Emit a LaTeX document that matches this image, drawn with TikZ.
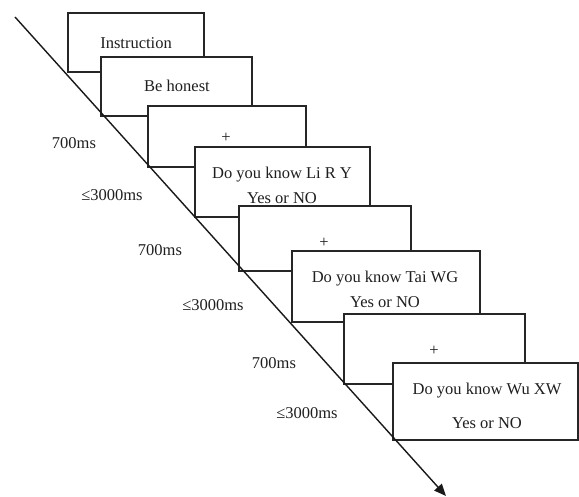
\documentclass[tikz,border=0pt]{standalone}
\usepackage{fontspec}
\setmainfont{Liberation Serif}
\usetikzlibrary{arrows.meta}
\begin{document}
\begin{tikzpicture}[x=1pt,y=-1pt,
  frame/.style={draw=black!85, line width=1.5pt, fill=white, inner sep=0pt, outer sep=0pt, anchor=north west},
  txt/.style={font=\fontsize{16.5}{20}\selectfont, text=black!88, anchor=base, inner sep=0pt},
  timeline/.style={draw=black!90, line width=1.4pt, -{Triangle[length=12pt,width=10pt]}}]
\useasboundingbox (0,0) rectangle (579,497);
% slides
\node[frame, minimum width=136pt, minimum height=59pt] (b1) at (68,13) {};
\node[frame, minimum width=151pt, minimum height=59pt] (b2) at (101,57) {};
\node[frame, minimum width=158pt, minimum height=61pt] (b3) at (148,106) {};
\node[frame, minimum width=175pt, minimum height=70pt] (b4) at (195,147) {};
\node[frame, minimum width=172pt, minimum height=65pt] (b5) at (239,206) {};
\node[frame, minimum width=188pt, minimum height=71pt] (b6) at (292,251) {};
\node[frame, minimum width=181pt, minimum height=70pt] (b7) at (344,314) {};
\node[frame, minimum width=185pt, minimum height=77pt] (b8) at (393,363) {};
% slide texts
\node[txt] (t1) at (136,48.5) {Instruction};
\node[txt] (t2) at (177,91.5) {Be honest};
\node[txt] (t3) at (226,142.5) {+};
\node[txt] (t4a) at (282,178.5) {Do you know Li R Y};
\node[txt] (t4b) at (282,203.5) {Yes or NO};
\node[txt] (t5) at (324,247.5) {+};
\node[txt] (t6a) at (385,282.5) {Do you know Tai WG};
\node[txt] (t6b) at (385,307.5) {Yes or NO};
\node[txt] (t7) at (434,355.5) {+};
\node[txt] (t8a) at (487,394.5) {Do you know Wu XW};
\node[txt] (t8b) at (487,428.5) {Yes or NO};
% durations
\node[txt] (d1) at (74,148.5) {700ms};
\node[txt] (d2) at (112,200.5) {≤3000ms};
\node[txt] (d3) at (160,255.5) {700ms};
\node[txt] (d4) at (213,310.5) {≤3000ms};
\node[txt] (d5) at (274,368.5) {700ms};
\node[txt] (d6) at (307,418.5) {≤3000ms};
% time axis
\coordinate (s) at (15,17);
\coordinate (e) at (446,496);
\draw[timeline] (s) -- (e);
\end{tikzpicture}
\end{document}
